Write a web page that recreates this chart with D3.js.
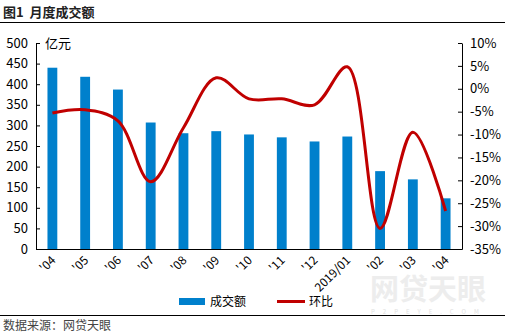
<!DOCTYPE html>
<html>
<head>
<meta charset="utf-8">
<script src="https://cdn.jsdelivr.net/npm/d3@7"></script>
<style>
  html, body { margin: 0; padding: 0; background: #fff; }
  svg { display: block; font-family: "Noto Sans CJK SC", "Noto Sans", sans-serif; }
</style>
</head>
<body>
<svg id="chart" width="505" height="335"></svg>
<script>
// Monthly volume (亿元) and month-over-month change (%)
const months = ["'04", "'05", "'06", "'07", "'08", "'09", "'10", "'11", "'12", "2019/01", "'02", "'03", "'04"];
const volume = [440, 418, 387, 307, 281, 286, 278, 271, 261, 273, 189, 169, 123];
const momChange = [-5.3, -4.6, -7.0, -20.3, -8.5, 2.4, -2.2, -2.2, -3.5, 4.8, -30.5, -9.5, -26.7];
const leftTicks = [0, 50, 100, 150, 200, 250, 300, 350, 400, 450, 500];
const rightTicks = [-35, -30, -25, -20, -15, -10, -5, 0, 5, 10];

const svg = d3.select("#chart");
const m = { left: 36, right: 462, top: 43, bottom: 249 };

// Title and rules
svg.append("text").attr("x", 3).attr("y", 17)
  .attr("font-size", 13).attr("font-weight", "bold").attr("fill", "#222")
  .text("图1\u00a0\u00a0月度成交额");
svg.append("line").attr("x1", 0).attr("x2", 505).attr("y1", 22.5).attr("y2", 22.5)
  .attr("stroke", "#000").attr("stroke-width", 1.2);
svg.append("line").attr("x1", 0).attr("x2", 505).attr("y1", 315.5).attr("y2", 315.5)
  .attr("stroke", "#000").attr("stroke-width", 1.2);
svg.append("text").attr("x", 3).attr("y", 330)
  .attr("font-size", 12).attr("fill", "#444")
  .text("数据来源：网贷天眼");

// Watermark: brand name with site address beneath
svg.append("text").attr("x", 370).attr("y", 300)
  .attr("font-size", 29).attr("font-weight", "bold").attr("fill", "#ededed")
  .text("网贷天眼");
svg.append("text").attr("x", 371).attr("y", 313.5)
  .attr("font-size", 6).attr("fill", "#e2e2e2").attr("letter-spacing", 8)
  .text("P2PEYE.COM");

// Scales
const x = d3.scaleBand().domain(d3.range(months.length)).range([m.left, m.right]).paddingInner(0.7).paddingOuter(0.35);
const xc = i => x(i) + x.bandwidth() / 2;
const yL = d3.scaleLinear().domain([0, 500]).range([m.bottom, m.top]);
const yR = d3.scaleLinear().domain([-35, 10]).range([m.bottom, m.top]);

// Bars
svg.append("g").selectAll("rect").data(volume).join("rect")
  .attr("x", (d, i) => x(i)).attr("width", x.bandwidth())
  .attr("y", d => yL(d)).attr("height", d => yL(0) - yL(d))
  .attr("fill", "#0080cc");

// Smoothed change line
const line = d3.line().x((d, i) => xc(i)).y(d => yR(d)).curve(d3.curveCatmullRom.alpha(0.5));
svg.append("path").datum(momChange).attr("d", line)
  .attr("fill", "none").attr("stroke", "#c00000").attr("stroke-width", 3);

// Left axis
const gL = svg.append("g").attr("transform", `translate(${m.left},0)`)
  .call(d3.axisLeft(yL).tickValues(leftTicks).tickSizeInner(-4).tickSizeOuter(0).tickPadding(8));
gL.selectAll("text").attr("font-size", 13).attr("fill", "#000").attr("font-family", "Noto Sans CJK SC");
gL.select(".domain").attr("stroke", "#000");
gL.selectAll(".tick line").attr("stroke", "#000");
svg.append("text").attr("x", 45).attr("y", 48).attr("font-size", 13).attr("fill", "#000").text("亿元");

// Right axis
const gR = svg.append("g").attr("transform", `translate(${m.right},0)`)
  .call(d3.axisRight(yR).tickValues(rightTicks).tickFormat(d => d + "%").tickSizeInner(-4).tickSizeOuter(0).tickPadding(8));
gR.selectAll("text").attr("font-size", 13).attr("fill", "#000").attr("font-family", "Noto Sans CJK SC");
gR.select(".domain").attr("stroke", "#000");
gR.selectAll(".tick line").attr("stroke", "#000");

// Bottom axis
const gB = svg.append("g").attr("transform", `translate(0,${m.bottom})`)
  .call(d3.axisBottom(x).tickFormat(i => months[i]).tickSize(0).tickPadding(0));
gB.select(".domain").attr("stroke", "#000").attr("stroke-width", 1.2);
gB.selectAll("text")
  .attr("font-size", 12).attr("fill", "#000").attr("font-family", "Noto Sans CJK SC")
  .attr("text-anchor", "end").attr("dy", "0.35em")
  .attr("transform", "translate(1,9) rotate(-45)");

// Legend
const lg = svg.append("g");
lg.append("rect").attr("x", 179).attr("y", 298).attr("width", 26).attr("height", 7).attr("fill", "#0080cc");
lg.append("text").attr("x", 210).attr("y", 306).attr("font-size", 12).attr("fill", "#000").text("成交额");
lg.append("line").attr("x1", 277).attr("x2", 305).attr("y1", 301.5).attr("y2", 301.5).attr("stroke", "#c00000").attr("stroke-width", 3);
lg.append("text").attr("x", 309).attr("y", 306).attr("font-size", 12).attr("fill", "#000").text("环比");
</script>
</body>
</html>
